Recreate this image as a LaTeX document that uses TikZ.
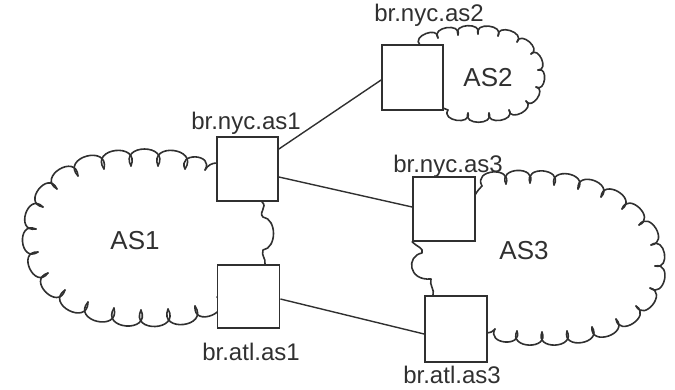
\documentclass[tikz,border=0pt]{standalone}
\usepackage{fontspec}
\setmainfont{Liberation Sans}
\usetikzlibrary{calc}
\definecolor{ink}{HTML}{303030}
\tikzset{
  router/.style={draw=ink, line width=1.8pt, fill=white, inner sep=0pt},
  lbl/.style={text=ink, anchor=base, inner sep=0pt, font=\fontsize{24}{24}\selectfont},
  aslbl/.style={text=ink, anchor=base, inner sep=0pt, font=\fontsize{26}{26}\selectfont},
  link/.style={draw=ink, line width=1.4pt},
  cl/.style={draw=ink, line width=1.6pt, line cap=round, line join=round}
}
\newcommand\scallops[3]{%
  \foreach \cx/\cy [remember=\cx as \px (initially 0), remember=\cy as \py (initially 0), count=\ci] in {#3} {%
    \ifnum\ci>1
      \draw[cl] (\px,\py) .. controls ($(\px,\py)!#1!#2:(\cx,\cy)$) and ($(\cx,\cy)!#1!-#2:(\px,\py)$) .. (\cx,\cy);
    \fi
  }%
}
\begin{document}
\begin{tikzpicture}[x=1pt, y=-1pt]
\useasboundingbox (0,0) rectangle (675,390);
% clouds
\scallops{0.95}{118}{217/297, 195/306, 168/309, 141/310, 114/308, 88/302, 65/290, 48/273, 38/252, 36/229, 43/207, 57/189, 78/176, 104/169, 131/166, 158/166, 185/169, 205/170}
\draw[cl] (205,170) .. controls (208,165) and (212,163) .. (217,163);
\scallops{0.65}{115}{420/45, 438/38, 458/35, 478/34, 498/36, 517/42, 531/54, 538/70, 536/87, 526/101, 509/110, 489/113, 468/113, 448/110}
\draw[cl] (448,110) -- (443,108);
\scallops{0.8}{115}{482/186, 506/184, 530/183, 554/185, 578/189, 601/197, 622/209, 639/225, 651/245, 655/266, 650/288, 636/306, 616/319, 592/327, 567/331, 542/332, 517/331, 495/329}
\draw[cl] (475,195) .. controls (478,190) and (480,188) .. (482,186);
\draw[cl] (495,329) .. controls (492,332) and (490,333) .. (487,333);
% routers
\node[router, minimum width=61pt, minimum height=64pt] (n1) at (247.5,169) {};
\node[router, minimum width=62pt, minimum height=63pt] (a1) at (248.5,296.5) {};
\node[router, minimum width=61pt, minimum height=65pt] (n2) at (412.5,77.5) {};
\node[router, minimum width=62pt, minimum height=64pt] (n3) at (444,209) {};
\node[router, minimum width=62pt, minimum height=66pt] (a3) at (456,329) {};
% cloud parts between routers
\draw[cl] ([xshift=14.5pt]n1.south) .. controls +(6,5) and +(-5,-5) .. (263,217)
  .. controls (277,219) and (277,248) .. (263,250)
  .. controls (261,256) and (266,258) .. ([xshift=16.5pt]a1.north);
\draw[cl] (n3.south west) .. controls +(5,5) and +(2,-5) .. (422,253)
  .. controls (406,256) and (408,281) .. (431,279)
  .. controls (429,285) and (435,290) .. ([xshift=-23pt]a3.north);
% links
\draw[link] ([yshift=20pt]n1.east) -- ([yshift=-2.5pt]n2.west);
\draw[link] ([yshift=-8pt]n1.east) -- ([yshift=2pt]n3.west);
\draw[link] ([yshift=-2.5pt]a1.east) -- ([yshift=-5pt]a3.west);
% labels
\node[lbl] (t1) at (246,130) {br.nyc.as1};
\node[lbl] (t2) at (429,22) {br.nyc.as2};
\node[lbl] (t3) at (448,173) {br.nyc.as3};
\node[lbl] (t4) at (251,360) {br.atl.as1};
\node[lbl] (t5) at (452,383) {br.atl.as3};
\node[aslbl] (s1) at (135,250) {AS1};
\node[aslbl] (s2) at (488,87) {AS2};
\node[aslbl] (s3) at (524,260) {AS3};
\end{tikzpicture}
\end{document}
